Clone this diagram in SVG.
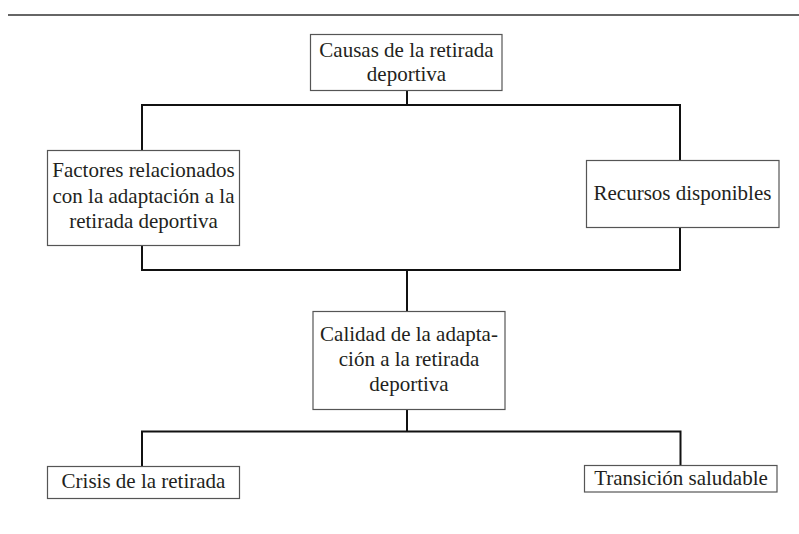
<svg xmlns="http://www.w3.org/2000/svg" width="799" height="534" viewBox="0 0 799 534">
<style>
.box{fill:#fff;stroke:#555;stroke-width:1.2}
.t{font-family:"Liberation Serif","Times New Roman",serif;font-size:21px;fill:#231f20;text-anchor:middle}
.c{fill:none;stroke:#111;stroke-width:2}
</style>
<rect width="799" height="534" fill="#fff"/>
<line x1="8" y1="15" x2="799" y2="15" stroke="#333" stroke-width="1.4"/>
<g id="connectors">
<path class="c" d="M407,91 V105 M142,150 V105 H680 V160.5"/>
<path class="c" d="M142,245.5 V270 H680 V227.5 M407,270 V311.5"/>
<path class="c" d="M407,409.5 V431.5 M142,466.5 V431.5 H680.5 V465.5"/>
</g>
<g id="causas">
<rect class="box" x="310.5" y="34.5" width="191.5" height="56"/>
<text class="t" x="406.5" y="56.5">Causas de la retirada</text>
<text class="t" x="406.5" y="80.5">deportiva</text>
</g>
<g id="factores">
<rect class="box" x="47.5" y="150.5" width="192" height="95"/>
<text class="t" x="143.5" y="177">Factores relacionados</text>
<text class="t" x="143.5" y="203">con la adaptación a la</text>
<text class="t" x="143.5" y="228">retirada deportiva</text>
</g>
<g id="recursos">
<rect class="box" x="586.5" y="160.5" width="192.5" height="67"/>
<text class="t" x="682.5" y="200">Recursos disponibles</text>
</g>
<g id="calidad">
<rect class="box" x="313" y="311.5" width="192" height="98"/>
<text class="t" x="409" y="340.5">Calidad de la adapta-</text>
<text class="t" x="409" y="366">ción a la retirada</text>
<text class="t" x="409" y="391">deportiva</text>
</g>
<g id="crisis">
<rect class="box" x="47.5" y="466.5" width="192" height="32"/>
<text class="t" x="143.5" y="488">Crisis de la retirada</text>
</g>
<g id="transicion">
<rect class="box" x="584.5" y="465.5" width="192.5" height="26.5"/>
<text class="t" x="681" y="484.5">Transición saludable</text>
</g>
</svg>
